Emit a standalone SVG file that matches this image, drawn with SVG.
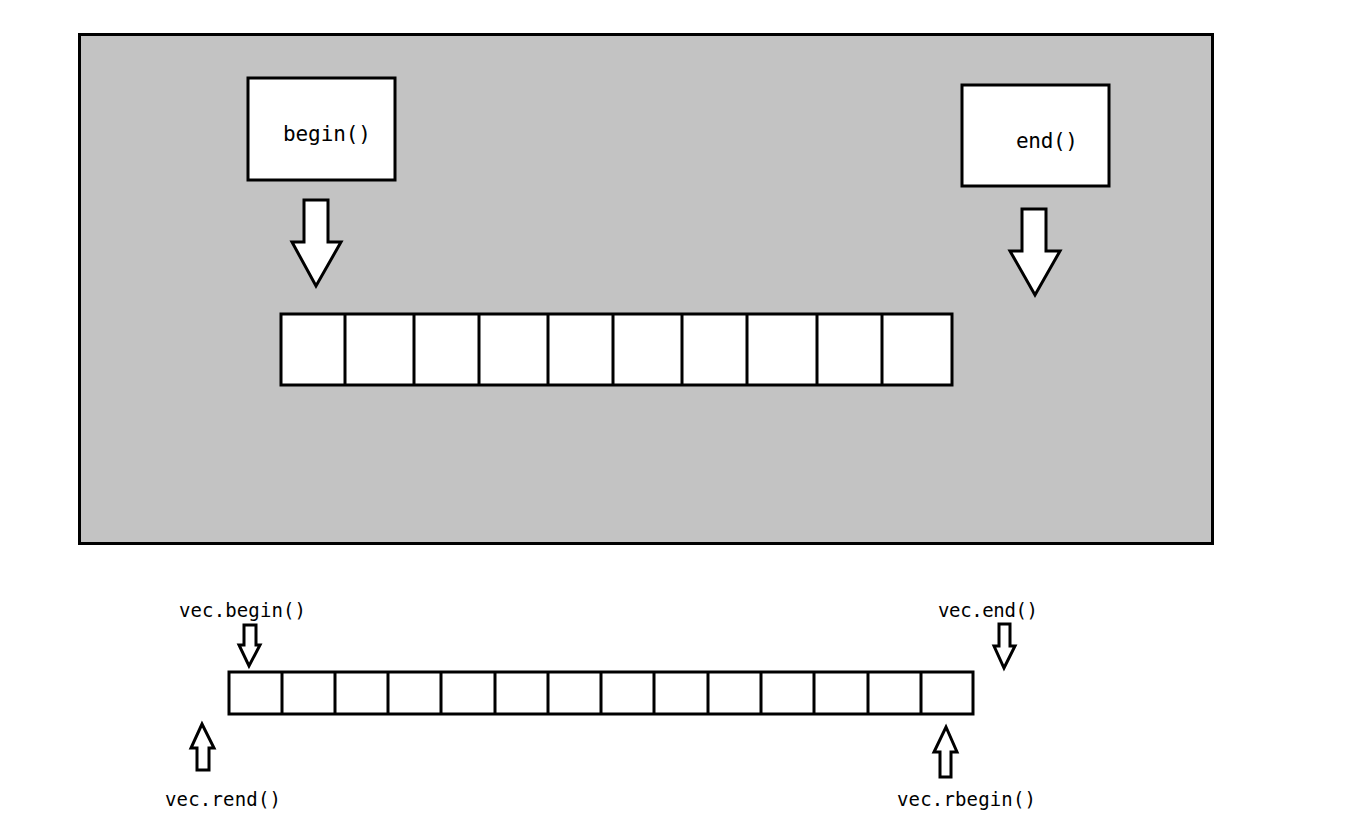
<svg xmlns="http://www.w3.org/2000/svg" width="1345" height="823" viewBox="0 0 1345 823">
<style>
.s{fill:#fff;stroke:#000;stroke-width:3}
.t{font-family:"DejaVu Sans Mono","Liberation Mono",monospace;fill:#000}
.big{font-size:21px}
.sm{font-size:19px}
</style>
<rect width="1345" height="823" fill="#fff"/>
<g id="panel"><rect x="79.500" y="34.500" width="1133" height="509" fill="#c3c3c3" stroke="#000" stroke-width="3"/></g>
<g id="begin-box"><rect class="s" x="248" y="78" width="147" height="102"/><text class="t big" x="283" y="141" textLength="88">begin()</text></g>
<g id="end-box"><rect class="s" x="962" y="85" width="147" height="101"/><text class="t big" x="1016" y="148" textLength="62">end()</text></g>
<g id="top-array">
<rect class="s" x="281" y="314" width="671" height="71"/>
<path d="M345 314V385M414 314V385M479 314V385M548 314V385M613 314V385M682 314V385M747 314V385M817 314V385M882 314V385" stroke="#000" stroke-width="3"/>
</g>
<g id="bottom-array">
<rect class="s" x="229" y="672" width="744" height="42"/>
<path d="M282 672V714M335 672V714M388 672V714M441 672V714M495 672V714M548 672V714M601 672V714M654 672V714M708 672V714M761 672V714M814 672V714M868 672V714M921 672V714" stroke="#000" stroke-width="3"/>
</g>
<g id="connectors">
<polygon class="s" points="304,200 328,200 328,242 341,242 316,286 292,242 304,242"/>
<polygon class="s" points="1022,209 1046,209 1046,251 1060,251 1035,295 1010,251 1022,251"/>
<polygon class="s" points="244,625 256,625 256,645 260,645 249,666 239,645 244,645"/>
<polygon class="s" points="999,624 1010,624 1010,646 1015,646 1004,668 994,646 999,646"/>
<polygon class="s" points="940,777 951,777 951,752 957,752 946,727 934,752 940,752"/>
<polygon class="s" points="197,770 209,770 209,748 214,748 202,724 191,748 197,748"/>
</g>
<g id="labels">
<text class="t sm" x="179" y="617" textLength="127">vec.begin()</text>
<text class="t sm" x="938" y="617" textLength="100">vec.end()</text>
<text class="t sm" x="165" y="806" textLength="116">vec.rend()</text>
<text class="t sm" x="897" y="806" textLength="139">vec.rbegin()</text>
</g>
</svg>
